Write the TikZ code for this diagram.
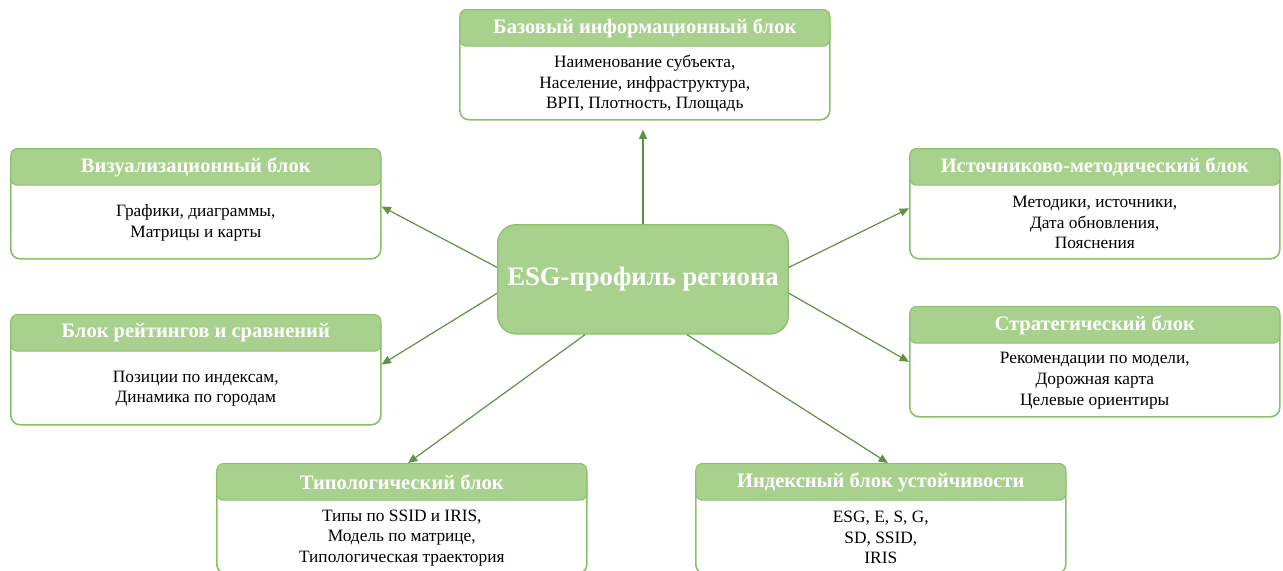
\documentclass[tikz,border=0pt]{standalone}
\usepackage{fontspec}
\setmainfont{Liberation Serif}
\usetikzlibrary{calc,arrows.meta}
\definecolor{hfill}{HTML}{A9D18E}
\definecolor{bline}{HTML}{8BC06A}
\definecolor{aline}{HTML}{5E9441}
\tikzset{
  body/.style={draw=bline, line width=1.2pt, fill=white, rounded corners=7pt, minimum width=277.5pt, minimum height=82.5pt, anchor=north west, inner sep=0pt},
  head/.style={draw=bline, line width=0.8pt, fill=hfill, rounded corners=5pt, minimum width=277.5pt, minimum height=27.5pt, anchor=north, inner sep=0pt, text=white, font=\bfseries\fontsize{15.4}{17}\selectfont},
  txt/.style={align=center, font=\fontsize{13}{15.4}\selectfont, inner sep=0pt},
  center/.style={draw=bline, line width=1pt, fill=hfill, rounded corners=14pt, minimum width=218pt, minimum height=82pt, anchor=north west, text=white, font=\bfseries\fontsize{20}{22}\selectfont},
  arr/.style={draw=aline, line width=0.9pt, -{Triangle[length=7pt,width=6pt]}}
}
\newcommand{\blk}[5]{%
  \node[body] (#1) at (#2,#3) {};
  \node[head] (#1h) at (#1.north) {#4};
  \node[txt] (#1t) at ($(#1h.south)!0.5!(#1.south)$) {#5};
}
\begin{document}
\begin{tikzpicture}[x=0.75pt,y=-0.75pt]
\useasboundingbox (0,0) rectangle (1283,571);
\clip (0,0) rectangle (1283,571);
\blk{b1}{459}{9}{Базовый информационный блок}{Наименование субъекта,\\Население, инфраструктура,\\ВРП, Плотность, Площадь}
\blk{b2}{10}{148}{Визуализационный блок}{Графики, диаграммы,\\Матрицы и карты}
\blk{b3}{909}{148}{Источниково-методический блок}{Методики, источники,\\Дата обновления,\\Пояснения}
\blk{b4}{10}{314}{Блок рейтингов и сравнений}{Позиции по индексам,\\Динамика по городам}
\blk{b5}{909}{306}{Стратегический блок}{Рекомендации по модели,\\Дорожная карта\\Целевые ориентиры}
\blk{b6}{216}{463}{Типологический блок}{Типы по SSID и IRIS,\\Модель по матрице,\\Типологическая траектория}
\blk{b7}{695}{463}{Индексный блок устойчивости}{ESG, E, S, G,\\SD, SSID,\\IRIS}
\node[center] (c) at (497,224) {ESG-профиль региона};
\draw[arr] (c.north) -- ([yshift=-6.75pt]c.north |- b1.south);
\draw[arr] ([yshift=9pt]c.west) -- ([yshift=-2pt]b2.east);
\draw[arr] ([yshift=-10.5pt]c.west) -- ([yshift=4pt]b4.east);
\draw[arr] ([yshift=9pt]c.east) -- ([yshift=-3.4pt]b3.west);
\draw[arr] ([yshift=-10.5pt]c.east) -- ([yshift=0pt]b5.west);
\draw[arr] ([xshift=66pt]c.south west) -- ([xshift=144pt]b6.north west);
\draw[arr] ([xshift=142.5pt]c.south west) -- ([xshift=144.75pt]b7.north west);
\end{tikzpicture}
\end{document}
